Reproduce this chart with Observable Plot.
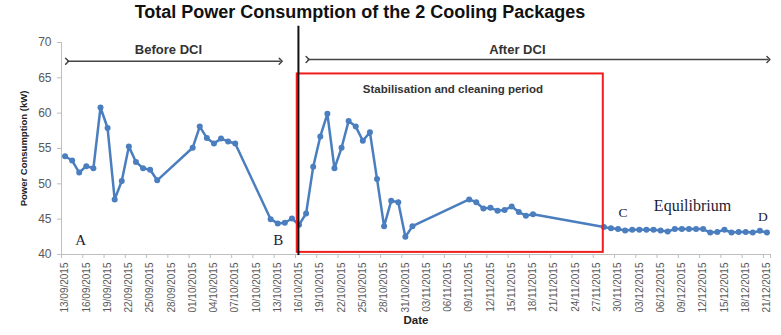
<!DOCTYPE html>
<html>
<head>
<meta charset="utf-8">
<script src="https://cdn.jsdelivr.net/npm/d3@7"></script>
<script src="https://cdn.jsdelivr.net/npm/@observablehq/plot@0.6"></script>
<style>
  body { margin: 0; background: #fff; }
  #title { width: 720px; height: 24px; line-height: 24px; text-align: center;
    font-family: "Liberation Sans", Arial, sans-serif; font-weight: bold; font-size: 18px; color: #111; }
</style>
</head>
<body>
<div id="title">Total Power Consumption of the 2 Cooling Packages</div>
<div id="chart"></div>
<script>
// ---- data ----
const dates = [
  "2015-09-13","2015-09-14","2015-09-15","2015-09-16","2015-09-17","2015-09-18","2015-09-19",
  "2015-09-20","2015-09-21","2015-09-22","2015-09-23","2015-09-24","2015-09-25","2015-09-26",
  "2015-10-01","2015-10-02","2015-10-03","2015-10-04","2015-10-05","2015-10-06","2015-10-07",
  "2015-10-12","2015-10-13","2015-10-14","2015-10-15","2015-10-16","2015-10-17","2015-10-18",
  "2015-10-19","2015-10-20","2015-10-21","2015-10-22","2015-10-23","2015-10-24","2015-10-25",
  "2015-10-26","2015-10-27","2015-10-28","2015-10-29","2015-10-30","2015-10-31","2015-11-01",
  "2015-11-09","2015-11-10","2015-11-11","2015-11-12","2015-11-13","2015-11-14","2015-11-15",
  "2015-11-16","2015-11-17","2015-11-18",
  "2015-11-28","2015-11-29","2015-11-30","2015-12-01","2015-12-02","2015-12-03","2015-12-04",
  "2015-12-05","2015-12-06","2015-12-07","2015-12-08","2015-12-09","2015-12-10","2015-12-11",
  "2015-12-12","2015-12-13","2015-12-14","2015-12-15","2015-12-16","2015-12-17","2015-12-18",
  "2015-12-19","2015-12-20","2015-12-21"
];
const power = [
  53.9,53.3,51.6,52.5,52.2,60.8,57.9,
  47.8,50.4,55.3,53.1,52.2,52.0,50.5,
  55.1,58.1,56.5,55.7,56.4,56.0,55.7,
  45.0,44.4,44.5,45.1,44.2,45.8,52.4,
  56.7,59.9,52.2,55.1,58.9,58.1,56.1,
  57.3,50.7,44.0,47.6,47.4,42.5,44.0,
  47.8,47.4,46.5,46.6,46.2,46.3,46.8,
  46.0,45.5,45.7,
  43.9,43.7,43.6,43.4,43.5,43.5,43.5,
  43.5,43.4,43.25,43.6,43.6,43.6,43.6,
  43.6,43.1,43.2,43.5,43.1,43.2,43.2,
  43.1,43.35,43.1
];
const xTickLabels = [
  "13/09/2015","16/09/2015","19/09/2015","22/09/2015","25/09/2015","28/09/2015",
  "01/10/2015","04/10/2015","07/10/2015","10/10/2015","13/10/2015","16/10/2015",
  "19/10/2015","22/10/2015","25/10/2015","28/10/2015","31/10/2015","03/11/2015",
  "06/11/2015","09/11/2015","12/11/2015","15/11/2015","18/11/2015","21/11/2015",
  "24/11/2015","27/11/2015","30/11/2015","03/12/2015","06/12/2015","09/12/2015",
  "12/12/2015","15/12/2015","18/12/2015","21/12/2015"
];
const yTicks = [40, 45, 50, 55, 60, 65, 70];

// annotations (data units)
const arrows = [
  {x1: "2015-09-13T07:00Z", x2: "2015-10-13T10:00Z", y: 67.35},
  {x1: "2015-10-17T05:00Z", x2: "2015-12-21T05:00Z", y: 67.6}
];
const labels = [
  {x: "2015-09-27T14:00Z", y: 68.9, text: "Before DCI"},
  {x: "2015-11-15T19:00Z", y: 69.0, text: "After DCI"}
];
const periodLabel = {x: "2015-11-06T17:00Z", y: 63.35, text: "Stabilisation and cleaning period"};
const periodBox = {x1: "2015-10-15T18:00Z", x2: "2015-11-27T22:00Z", y1: 40.3, y2: 65.55};
const dciLine = {x: "2015-10-15T22:00Z", y1: 39.85, y2: 72.3};
const letters = [
  {x: "2015-09-15T05:00Z", y: 42.0, text: "A", size: 15},
  {x: "2015-10-13T02:00Z", y: 42.0, text: "B", size: 15},
  {x: "2015-11-30T17:00Z", y: 45.9, text: "C", size: 13.5},
  {x: "2015-12-20T10:00Z", y: 45.4, text: "D", size: 13.5}
];
const equilibrium = {x: "2015-12-10T12:00Z", y: 46.9, text: "Equilibrium"};

// ---- build ----
const parseTick = d3.utcParse("%d/%m/%Y");
const fmtTick = d3.utcFormat("%d/%m/%Y");
const data = dates.map((d, i) => ({date: new Date(d), value: power[i]}));
const tickDates = xTickLabels.map(parseTick);
const start = d3.utcHour.offset(tickDates[0], -12);
const end = d3.utcHour.offset(tickDates[tickDates.length - 1], 12);
const edgeTicks = tickDates.map(d => d3.utcHour.offset(d, -12)).concat([end]);
const P = s => new Date(s);
const blue = "#4a7ebf";

const chart = Plot.plot({
  width: 781, height: 311,
  marginLeft: 61, marginRight: 11, marginTop: 18, marginBottom: 81,
  style: {fontFamily: "'Liberation Sans', Arial, sans-serif", background: "#fff", overflow: "visible"},
  x: {type: "utc", domain: [start, end]},
  y: {domain: [40, 70]},
  marks: [
    Plot.ruleY([40], {stroke: "#bfbfbf"}),
    Plot.ruleX([start], {stroke: "#bfbfbf"}),
    Plot.axisY(yTicks, {tickSize: 4, tickPadding: 6, fontSize: 12, fill: "#595959", stroke: "#bfbfbf", label: null}),
    Plot.axisX(edgeTicks, {tickSize: 4, tickFormat: () => "", stroke: "#bfbfbf", label: null}),
    Plot.axisX(tickDates, {tickSize: 0, tickPadding: 8, tickRotate: -90, tickFormat: fmtTick, fontSize: 10, fill: "#595959", label: null}),
    Plot.line(data, {x: "date", y: "value", stroke: blue, strokeWidth: 2.5}),
    Plot.dot(data, {x: "date", y: "value", r: 3, fill: blue}),
    Plot.rect([periodBox], {x1: d => P(d.x1), x2: d => P(d.x2), y1: "y1", y2: "y2", fill: "none", stroke: "#f01e1e", strokeWidth: 2}),
    Plot.ruleX([dciLine], {x: d => P(d.x), y1: "y1", y2: "y2", stroke: "#111", strokeWidth: 2}),
    Plot.link(arrows, {x1: d => P(d.x1), x2: d => P(d.x2), y1: "y", y2: "y", stroke: "#444", strokeWidth: 1.5, markerStart: "arrow", markerEnd: "arrow"}),
    Plot.text(labels, {x: d => P(d.x), y: "y", text: "text", fontWeight: "bold", fontSize: 13, fill: "#333"}),
    Plot.text([periodLabel], {x: d => P(d.x), y: "y", text: "text", fontWeight: "bold", fontSize: 11.5, fill: "#333"}),
    Plot.text(letters, {x: d => P(d.x), y: "y", text: "text", fontSize: d => d.size, fill: "#1c2233", fontFamily: "'Liberation Serif', 'Times New Roman', serif"}),
    Plot.text([equilibrium], {x: d => P(d.x), y: "y", text: "text", fontSize: 16, fill: "#1c2233", fontFamily: "'Liberation Serif', 'Times New Roman', serif"}),
    Plot.text(["Power Consumption (kW)"], {text: d => d, frameAnchor: "left", textAnchor: "middle", dx: -38, rotate: -90, fontWeight: "bold", fontSize: 9.5, fill: "#222"}),
    Plot.text(["Date"], {text: d => d, frameAnchor: "bottom", dy: 69, fontWeight: "bold", fontSize: 11.5, fill: "#222"})
  ]
});
document.getElementById("chart").appendChild(chart);
</script>
</body>
</html>
